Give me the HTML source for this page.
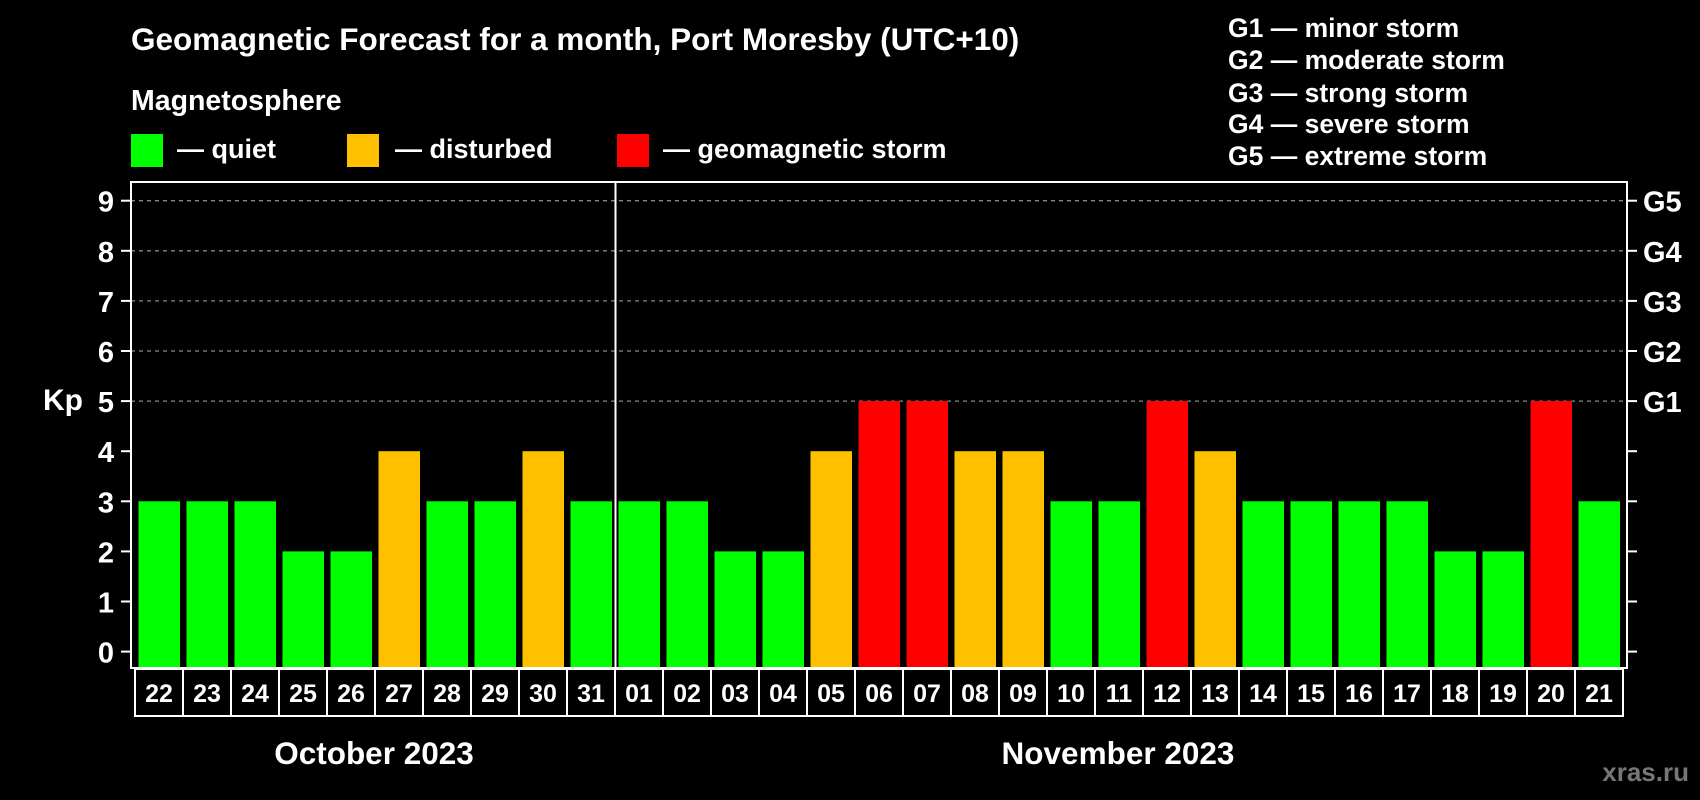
<!DOCTYPE html>
<html><head><meta charset="utf-8"><style>
body{margin:0;background:#000;}
svg{display:block;font-family:"Liberation Sans",sans-serif;font-weight:bold;}
</style></head><body>
<svg id="chart" width="1700" height="800" viewBox="0 0 1700 800" xmlns="http://www.w3.org/2000/svg">
<rect width="1700" height="800" fill="#000"/>
<text x="131" y="50" fill="#fff" font-size="31.5">Geomagnetic Forecast for a month, Port Moresby (UTC+10)</text>
<text x="131" y="110" fill="#fff" font-size="28.5">Magnetosphere</text>
<g><rect x="131" y="134" width="32" height="33" fill="#00ff00"/><text x="177" y="158" fill="#fff" font-size="27">— quiet</text></g>
<g><rect x="347" y="134" width="32" height="33" fill="#ffc000"/><text x="395" y="158" fill="#fff" font-size="27">— disturbed</text></g>
<g><rect x="617" y="134" width="32" height="33" fill="#ff0000"/><text x="663" y="158" fill="#fff" font-size="27">— geomagnetic storm</text></g>
<g fill="#fff" font-size="26.5">
<text x="1228" y="37">G1 — minor storm</text>
<text x="1228" y="69">G2 — moderate storm</text>
<text x="1228" y="102">G3 — strong storm</text>
<text x="1228" y="133">G4 — severe storm</text>
<text x="1228" y="165">G5 — extreme storm</text>
</g>
<text x="63" y="410" fill="#fff" font-size="30" text-anchor="middle">Kp</text>
<g id="grid"></g><g id="bars"></g><g id="axes"></g><g id="days"></g>
<text x="374" y="764" fill="#fff" font-size="31.5" text-anchor="middle">October 2023</text>
<text x="1118" y="764" fill="#fff" font-size="31.5" text-anchor="middle">November 2023</text>
<text x="1689" y="781" fill="#777" font-size="26" text-anchor="end">xras.ru</text>
</svg>
<script>
const days=["22","23","24","25","26","27","28","29","30","31","01","02","03","04","05","06","07","08","09","10","11","12","13","14","15","16","17","18","19","20","21"];
const kpValues=[3,3,3,2,2,4,3,3,4,3,3,3,2,2,4,5,5,4,4,3,3,5,4,3,3,3,3,2,2,5,3];
const yTicks=[0,1,2,3,4,5,6,7,8,9];
const gLabels=["","","","","","G1","G2","G3","G4","G5"];
const NS="http://www.w3.org/2000/svg";
const y0=651.6,unit=50.1,x0=135,pitch=48,plotL=131,plotR=1627,plotT=182,plotB=668;
const yS=v=>y0-v*unit, xS=i=>x0+i*pitch;
function mk(tag,attrs,parent){const e=document.createElementNS(NS,tag);for(const k in attrs)e.setAttribute(k,attrs[k]);parent.appendChild(e);return e;}
const grid=document.getElementById('grid'),bars=document.getElementById('bars'),axes=document.getElementById('axes'),dg=document.getElementById('days');
yTicks.forEach((t,i)=>{
 const y=yS(t);
 if(t>=5){const l=mk('line',{x1:plotL,x2:plotR,y1:y,y2:y,stroke:'#888','stroke-width':1.3,'stroke-dasharray':'4,4'},grid);
 
 }
 const tl=mk('line',{x1:plotL-10,x2:plotL,y1:y,y2:y,stroke:'#fff','stroke-width':2},axes);
 
 
 const tr=mk('line',{x1:plotR,x2:plotR+10,y1:y,y2:y,stroke:'#fff','stroke-width':2},axes);
 
 
 const tx=mk('text',{x:106,y:y+11,fill:'#fff','font-size':29,'text-anchor':'middle'},axes);tx.textContent=t;
 
 
 if(gLabels[i]){const g=mk('text',{x:1643,y:y+11,fill:'#fff','font-size':29},axes);g.textContent=gLabels[i];
 
 }
});
kpValues.forEach((v,i)=>{
 const c=v>=5?'#ff0000':(v>=4?'#ffc000':'#00ff00');
 const r=mk('rect',{x:xS(i)+3.5,y:yS(v),width:41.5,height:plotB-1-yS(v),fill:c},bars);
 
 
 const b=mk('rect',{x:xS(i),y:669,width:pitch,height:47,fill:'none',stroke:'#fff','stroke-width':2},dg);
 
 
 const t=mk('text',{x:xS(i)+pitch/2,y:702,fill:'#fff','font-size':25,'text-anchor':'middle'},dg);t.textContent=days[i];
 
 
});
const fr=mk('rect',{x:plotL,y:plotT,width:plotR-plotL,height:plotB-plotT,fill:'none',stroke:'#fff','stroke-width':2},axes);


const sep=mk('line',{x1:xS(10)+0.5,x2:xS(10)+0.5,y1:plotT,y2:plotB,stroke:'#fff','stroke-width':2},axes);


</script>
</body></html>
